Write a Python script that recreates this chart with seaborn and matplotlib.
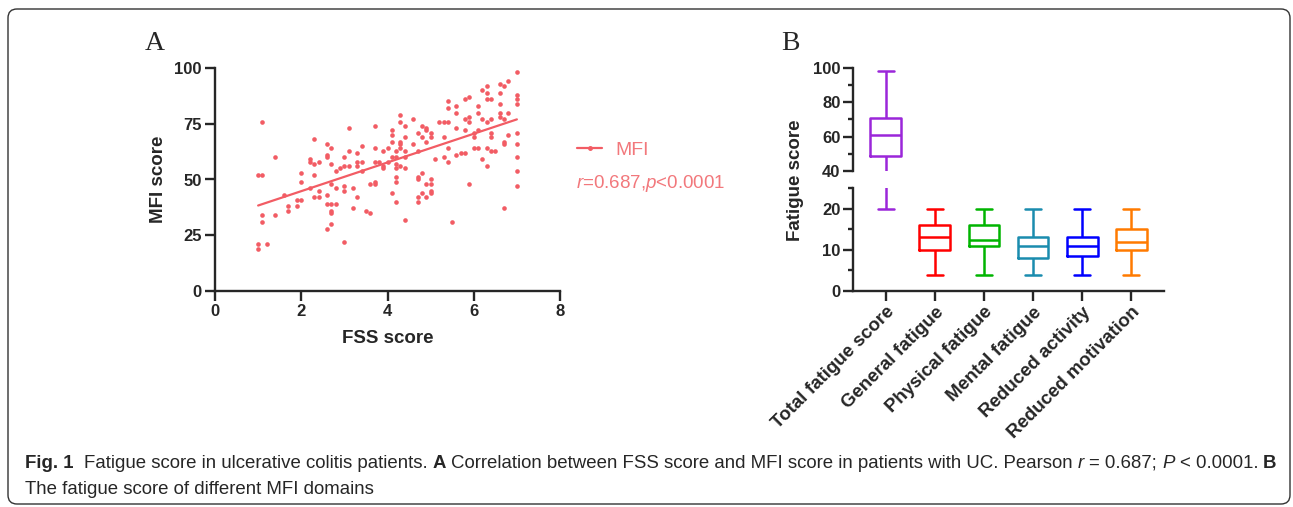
import matplotlib
matplotlib.use("Agg")
import numpy as np
import pandas as pd
import matplotlib.pyplot as plt
import seaborn as sns
from matplotlib import font_manager
from matplotlib.lines import Line2D
from matplotlib.patches import FancyBboxPatch
from matplotlib.ticker import MultipleLocator
from matplotlib.transforms import IdentityTransform

# Panel A: FSS score vs MFI score (one entry per patient)
fss = [
    1.0, 1.0, 1.0,
    1.1, 1.1, 1.1, 1.1,
    1.2,
    1.4, 1.4,
    1.6,
    1.7, 1.7,
    1.9, 1.9,
    2.0, 2.0, 2.0,
    2.2, 2.2, 2.2,
    2.3, 2.3, 2.3, 2.3,
    2.4, 2.4, 2.4,
    2.6, 2.6, 2.6, 2.6, 2.6, 2.6,
    2.7, 2.7, 2.7, 2.7, 2.7, 2.7, 2.7,
    2.8, 2.8, 2.8,
    2.9,
    3.0, 3.0, 3.0, 3.0, 3.0,
    3.1, 3.1, 3.1,
    3.2, 3.2,
    3.3, 3.3, 3.3, 3.3,
    3.4, 3.4, 3.4,
    3.5,
    3.6, 3.6,
    3.7, 3.7, 3.7, 3.7, 3.7,
    3.8,
    3.9, 3.9, 3.9,
    4.0, 4.0,
    4.1, 4.1, 4.1, 4.1, 4.1,
    4.2, 4.2, 4.2, 4.2, 4.2, 4.2, 4.2,
    4.3, 4.3, 4.3, 4.3, 4.3, 4.3,
    4.4, 4.4, 4.4, 4.4, 4.4, 4.4,
    4.6, 4.6,
    4.7, 4.7, 4.7, 4.7, 4.7, 4.7,
    4.8, 4.8, 4.8, 4.8,
    4.9, 4.9, 4.9, 4.9, 4.9,
    5.0, 5.0, 5.0, 5.0, 5.0, 5.0,
    5.1,
    5.2,
    5.3, 5.3, 5.3,
    5.4, 5.4, 5.4, 5.4, 5.4,
    5.5,
    5.6, 5.6, 5.6, 5.6,
    5.7,
    5.8, 5.8, 5.8, 5.8,
    5.9, 5.9, 5.9, 5.9,
    6.0, 6.0, 6.0,
    6.1, 6.1, 6.1, 6.1,
    6.2, 6.2, 6.2,
    6.3, 6.3, 6.3, 6.3, 6.3, 6.3,
    6.4, 6.4, 6.4, 6.4, 6.4,
    6.5,
    6.6, 6.6, 6.6, 6.6, 6.6,
    6.7, 6.7, 6.7, 6.7, 6.7,
    6.8, 6.8, 6.8,
    7.0, 7.0, 7.0, 7.0, 7.0, 7.0, 7.0, 7.0, 7.0,
]
mfi = [
    52, 21, 19,
    76, 52, 34, 31,
    21,
    60, 34,
    43,
    38, 36,
    41, 38,
    41, 53, 49,
    58, 46, 59,
    68, 57, 52, 42,
    58, 45, 42,
    66, 61, 60, 43, 39, 28,
    64, 57, 48, 39, 36, 35, 30,
    54, 46, 39,
    55,
    60, 56, 47, 45, 22,
    73, 63, 56,
    46, 37,
    62, 58, 56, 42,
    65, 58, 54,
    36,
    48, 35,
    74, 64, 58, 49, 48,
    58,
    63, 56, 55,
    64, 58,
    72, 70, 67, 60, 44,
    63, 60, 57, 55, 51, 49, 40,
    79, 76, 67, 66, 64, 56,
    74, 69, 63, 60, 55, 32,
    77, 66,
    71, 63, 51, 50, 42, 40,
    74, 69, 53, 44,
    73, 72, 67, 48, 42,
    71, 69, 50, 48, 45, 44,
    59,
    76,
    76, 69, 60,
    85, 82, 76, 64, 58,
    31,
    83, 80, 73, 61,
    62,
    86, 77, 72, 62,
    87, 78, 76, 48,
    71, 69, 64,
    83, 80, 72, 64,
    90, 77, 59,
    92, 89, 86, 76, 64, 56,
    86, 77, 71, 69, 63,
    63,
    93, 89, 84, 80, 78,
    92, 77, 67, 66, 37,
    94, 80, 70,
    98, 88, 86, 84, 71, 66, 60, 54, 47,
]

# Panel B: five-number summaries of the MFI domains
domains = ["Total fatigue score", "General fatigue", "Physical fatigue",
           "Mental fatigue", "Reduced activity", "Reduced motivation"]
box_min = [20, 4, 4, 4, 4, 4]
box_q1 = [49, 10, 11, 8, 8.5, 10]
box_med = [61, 13, 12.5, 11, 11, 12]
box_q3 = [71, 16, 16, 13, 13, 15]
box_max = [98, 20, 20, 20, 20, 20]
box_colors = ["#9B26D9", "#FF0000", "#00B400", "#1A8CAE", "#0000FF", "#FF7A00"]

pink = "#F25C64"
pink_text = "#F2787C"

# five values per domain -> quartiles land exactly on the summary values
rows = []
for i, d in enumerate(domains):
    for v in (box_min[i], box_q1[i], box_med[i], box_q3[i], box_max[i]):
        rows.append({"domain": d, "score": v})
box_df = pd.DataFrame(rows)

sns.set_style("ticks")
plt.rcParams["font.family"] = ["Liberation Sans", "DejaVu Sans"]
plt.rcParams["mathtext.fontset"] = "custom"
plt.rcParams["mathtext.it"] = "Liberation Sans:italic"
plt.rcParams["mathtext.rm"] = "Liberation Sans"

W, H = 1293, 507
fig = plt.figure(figsize=(W / 100, H / 100), dpi=100)

# ---------------- panel A ----------------
ax_a = fig.add_axes([215 / W, 1 - 291 / H, 345 / W, 223 / H])
sns.regplot(x=fss, y=mfi, ax=ax_a, ci=None, color=pink,
            scatter_kws=dict(s=11, linewidths=0, alpha=1),
            line_kws=dict(lw=1.6))
ax_a.set_xlim(0, 8)
ax_a.set_ylim(0, 100)
ax_a.set_xticks([0, 2, 4, 6, 8])
ax_a.set_yticks([0, 25, 50, 75, 100])
sns.despine(ax=ax_a)
for s in ["left", "bottom"]:
    ax_a.spines[s].set_linewidth(1.7)
ax_a.tick_params(width=1.7, length=7, pad=2.5, labelsize=12)
for lab in ax_a.get_xticklabels() + ax_a.get_yticklabels():
    lab.set_fontweight("bold")
ax_a.set_xlabel("FSS score", fontsize=13.5, fontweight="bold", labelpad=8)
ax_a.set_ylabel("MFI score", fontsize=13.5, fontweight="bold", labelpad=5)

ax_a.legend(handles=[Line2D([], [], color=pink, lw=1.6, marker="o", markersize=2.5)],
            labels=["MFI"], loc="center left", bbox_to_anchor=(1.049, 0.632),
            frameon=False, fontsize=14, handlelength=1.3, handletextpad=0.7,
            borderpad=0, borderaxespad=0, labelcolor=pink_text)
ax_a.text(1.045, 0.484, r"$r$=0.687,$p$<0.0001", transform=ax_a.transAxes,
          fontsize=13.5, color=pink_text, va="center", ha="left")

# ---------------- panel B (broken y axis) ----------------
ax_top = fig.add_axes([853 / W, 1 - 171 / H, 311 / W, 103 / H])
ax_bot = fig.add_axes([853 / W, 1 - 291 / H, 311 / W, 103 / H])
for ax in (ax_top, ax_bot):
    sns.boxplot(data=box_df, x="domain", y="score", hue="domain", order=domains,
                hue_order=domains, palette=box_colors, fill=False, whis=(0, 100),
                width=0.63, linewidth=1.8, legend=False, ax=ax)
    ax.set_xlim(-0.67, 5.67)
    ax.set_xlabel("")
    ax.set_ylabel("")
    ax.spines[["top", "right"]].set_visible(False)
    ax.spines["left"].set_linewidth(1.7)
    ax.tick_params(axis="both", which="major", width=1.7, length=7, pad=2, labelsize=12)
    ax.tick_params(axis="y", which="minor", width=1.7, length=3.5)

ax_top.set_ylim(40, 100)
ax_top.set_yticks([40, 60, 80, 100])
ax_top.yaxis.set_minor_locator(MultipleLocator(10))
ax_top.spines["bottom"].set_visible(False)
ax_top.tick_params(axis="x", bottom=False, labelbottom=False)

ax_bot.set_ylim(0, 25)
ax_bot.set_yticks([0, 10, 20])
ax_bot.yaxis.set_minor_locator(MultipleLocator(5))
ax_bot.spines["bottom"].set_linewidth(1.7)
ax_bot.set_xticks(range(len(domains)))
ax_bot.set_xticklabels(domains, rotation=45, ha="right", rotation_mode="anchor",
                       fontsize=13.5, fontweight="bold")
for lab in ax_top.get_yticklabels() + ax_bot.get_yticklabels():
    lab.set_fontweight("bold")

fig.text(796 / W, 1 - 180 / H, "Fatigue score", rotation=90, fontsize=13.5,
         fontweight="bold", ha="center", va="center")

# panel letters
fig.text(145 / W, 1 - 50 / H, "A", family="Liberation Serif", fontsize=20, va="baseline")
fig.text(781 / W, 1 - 50 / H, "B", family="Liberation Serif", fontsize=20, va="baseline")

# ---------------- caption ----------------
names = {f.name for f in font_manager.fontManager.ttflist}
cap_font = "Liberation Sans Narrow" if "Liberation Sans Narrow" in names else "Liberation Sans"
renderer = fig.canvas.get_renderer()

line1 = [("Fig. 1", "b"), ("", "n"), ("Fatigue score in ulcerative colitis patients.", "n"),
         ("A", "b"), ("Correlation between FSS score and MFI score in patients with UC. Pearson", "n"),
         ("r", "i"), ("= 0.687;", "n"), ("P", "i"), ("< 0.0001.", "n"), ("B", "b")]


def text_kw(style, size):
    return dict(fontsize=size, family=cap_font,
                fontweight="bold" if style == "b" else "normal",
                fontstyle="italic" if style == "i" else "normal")


def draw_parts(parts, x0, y, size):
    probe = fig.text(0, 0, "x x", **text_kw("n", size))
    probe2 = fig.text(0, 0, "xx", **text_kw("n", size))
    gap = probe.get_window_extent(renderer).width - probe2.get_window_extent(renderer).width
    probe.remove()
    probe2.remove()
    x = x0
    made = []
    for i, (txt, style) in enumerate(parts):
        if txt:
            t = fig.text(x / W, y, txt, va="center", ha="left", **text_kw(style, size))
            made.append(t)
            x += t.get_window_extent(renderer).width
        if i < len(parts) - 1:
            x += gap
    return x, made


end, made = draw_parts(line1, 25, 1 - 463 / H, 12)
for t in made:
    t.remove()
size = 12 * (1283 - 25) / (end - 25)
draw_parts(line1, 25, 1 - 463 / H, size)
fig.text(25 / W, 1 - 490 / H, "The fatigue score of different MFI domains",
         va="center", ha="left", **text_kw("n", size))

# rounded frame around the whole figure
fig.patches.append(FancyBboxPatch((8, 3), 1282, 495, boxstyle="round,pad=0,rounding_size=9",
                                  transform=IdentityTransform(), fill=False,
                                  edgecolor="#333333", lw=1.0))

fig.savefig("out.png", dpi=100)
